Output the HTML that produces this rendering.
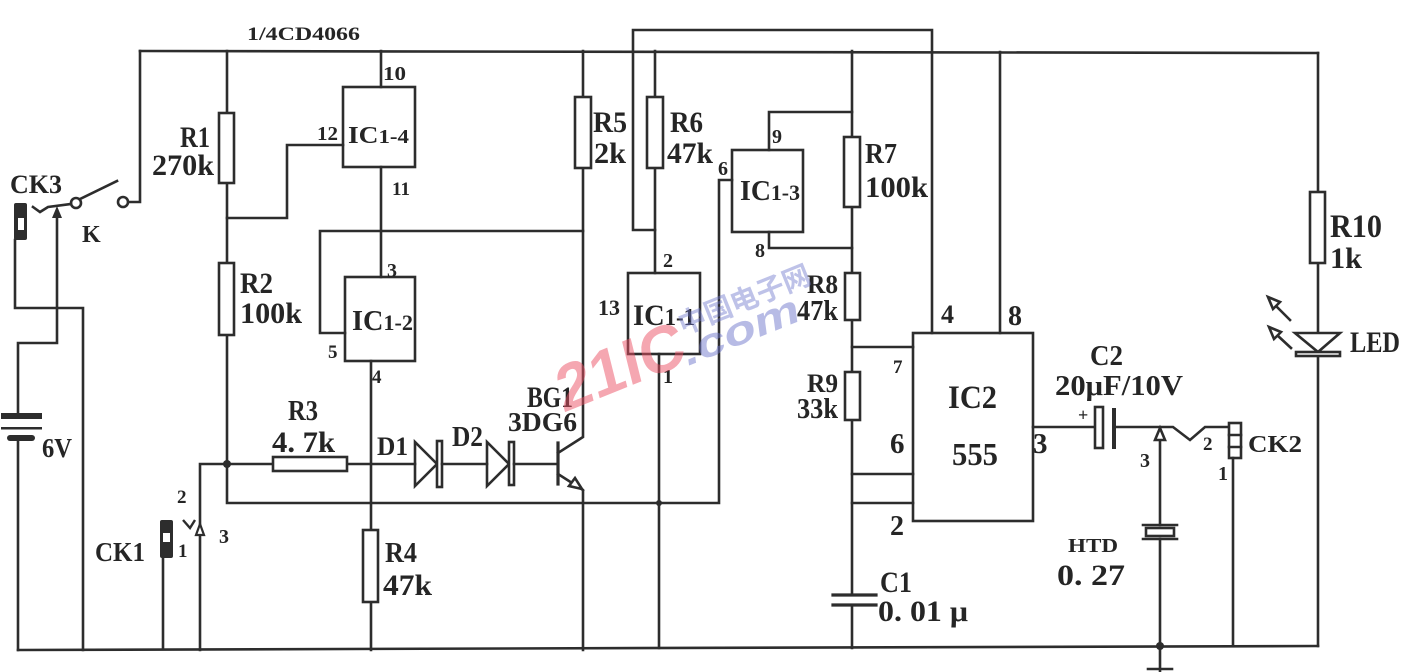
<!DOCTYPE html>
<html><head><meta charset="utf-8"><style>
html,body{margin:0;padding:0;background:#fff;}
svg{display:block;}
text{font-family:"Liberation Serif",serif;font-weight:bold;fill:#252525;}
</style></head><body>
<svg width="1401" height="672" viewBox="0 0 1401 672" xmlns="http://www.w3.org/2000/svg">
<g fill="none" stroke="#2d2d2d" stroke-width="2.6" stroke-linejoin="miter" stroke-linecap="square">
<!-- rails -->
<path d="M140 51 L1318 53"/>
<path d="M18 650 L1318 646"/>
<path d="M655 230 H633 V30 H932 V333"/>
<!-- left side / switch K -->
<path d="M140 51 V202 H128"/>
<circle cx="123" cy="202" r="5" fill="#fff"/>
<circle cx="76" cy="203" r="5" fill="#fff"/>
<path d="M80 199 L117 181"/>
<path d="M33 207 L40 212 L48 207 L71 204"/>
<path d="M57 218 V343 H18 V413"/>
<path d="M18 442 V650"/>
<path d="M15 240 V308 H83 V650"/>
<!-- R1 R2 column -->
<path d="M227 51 V113 M227 183 V263 M227 335 V503 H719 V180 H732"/>
<rect x="219" y="113" width="15" height="70" fill="#fff"/>
<rect x="219" y="263" width="15" height="72" fill="#fff"/>
<path d="M227 218 H287 V145 H343"/>
<!-- IC1-4 / IC1-2 -->
<rect x="343" y="87" width="72" height="80"/>
<path d="M381 51 V87 M381 167 V277"/>
<path d="M345 333 H320 V231 H583"/>
<rect x="345" y="277" width="70" height="84"/>
<path d="M371 361 V530 M371 602 V650"/>
<rect x="363" y="530" width="15" height="72" fill="#fff"/>
<!-- R3, diodes -->
<path d="M200 650 V464 H273 M347 464 H415"/>
<rect x="273" y="457" width="74" height="14" fill="#fff"/>
<polygon points="415,442 415,486 437,464"/>
<rect x="437" y="441" width="5" height="46" fill="#fff"/>
<path d="M442 464 H487"/>
<polygon points="487,442 487,486 509,464"/>
<rect x="509" y="442" width="5" height="43" fill="#fff"/>
<path d="M514 464 H558"/>
<!-- transistor -->
<path d="M558 443 V484" stroke-width="3.2"/>
<path d="M558 453 L583 437 V168 M583 51 V97"/>
<rect x="575" y="97" width="16" height="71" fill="#fff"/>
<path d="M558 474 L583 490 V650"/>
<polygon points="582,489 569,486 575,478" fill="#fff"/>
<!-- R6 / IC1-1 -->
<path d="M655 51 V97 M655 168 V273"/>
<rect x="647" y="97" width="16" height="71" fill="#fff"/>
<rect x="628" y="273" width="72" height="81"/>
<path d="M659 354 V648"/>
<!-- IC1-3 -->
<rect x="732" y="150" width="71" height="82"/>
<path d="M769 150 V112 H852 M769 232 V248 H852"/>
<!-- R7 R8 R9 C1 -->
<path d="M852 51 V137 M852 207 V273 M852 320 V372 M852 420 V595 M852 605 V648"/>
<rect x="844" y="137" width="16" height="70" fill="#fff"/>
<rect x="845" y="273" width="15" height="47" fill="#fff"/>
<rect x="845" y="372" width="15" height="48" fill="#fff"/>
<path d="M833 595 H876 M833 605 H876" stroke-width="3.2"/>
<path d="M852 347 H913 M852 474 H913 M852 503 H913"/>
<!-- IC2 -->
<rect x="913" y="333" width="120" height="188"/>
<path d="M1000 52 V333"/>
<path d="M1033 427 H1095"/>
<rect x="1095" y="407" width="8" height="41" fill="#fff"/>
<path d="M1114 410 V447" stroke-width="4"/>
<path d="M1116 427 H1173 L1190 440 L1205 427 H1229"/>
<rect x="1229" y="423" width="12" height="35" fill="#fff"/>
<path d="M1229 435 H1241 M1229 447 H1241"/>
<path d="M1233 458 V646"/>
<!-- HTD -->
<path d="M1160 438 V525 M1160 539 V672"/>
<polygon points="1160,428 1155,440 1165,440" fill="#fff"/>
<path d="M1143 525 H1177 M1143 539 H1177"/>
<rect x="1146" y="528" width="28" height="8" fill="#fff"/>
<path d="M1148 669 H1172"/>
<!-- R10 LED -->
<path d="M1318 53 V192 M1318 263 V333 M1318 356 V646"/>
<rect x="1310" y="192" width="15" height="71" fill="#fff"/>
<polygon points="1295,333 1340,333 1318,352" fill="#fff"/>
<rect x="1296" y="352" width="44" height="4" fill="#fff"/>
<path d="M1290 320 L1276 306 M1291 348 L1277 335"/>
<polygon points="1268,297 1280,302 1273,309" fill="#fff"/>
<polygon points="1269,327 1281,332 1274,339" fill="#fff"/>
</g>
<g fill="#2d2d2d">
<polygon points="57,206 52,218 62,218"/>
<rect x="1" y="413" width="41" height="6"/>
<rect x="1" y="427" width="41" height="2.5"/>
<rect x="7" y="435" width="28" height="6" rx="3"/>
<rect x="14" y="203" width="13" height="37" rx="2"/>
<rect x="160" y="520" width="13" height="38" rx="2"/>
<circle cx="227" cy="464" r="4"/>
<circle cx="659" cy="503" r="3"/>
<circle cx="1160" cy="646" r="4"/>
</g>
<rect x="18" y="218" width="6" height="12" fill="#fff"/>
<rect x="163" y="533" width="7" height="9" fill="#fff"/>
<path d="M183 520 L190 528 L195 520" fill="none" stroke="#2d2d2d" stroke-width="2.4"/>
<path d="M163 558 V650" stroke="#2d2d2d" stroke-width="2.6"/>
<polygon points="200,524 196,535 204,535" fill="#fff" stroke="#2d2d2d" stroke-width="2.2"/>

<!-- labels -->
<text x="247" y="40" font-size="19" textLength="113" lengthAdjust="spacingAndGlyphs">1/4CD4066</text>
<text x="180" y="147" font-size="30" textLength="30" lengthAdjust="spacingAndGlyphs">R1</text>
<text x="152" y="175" font-size="30" textLength="62" lengthAdjust="spacingAndGlyphs">270k</text>
<text x="240" y="293" font-size="30" textLength="33" lengthAdjust="spacingAndGlyphs">R2</text>
<text x="240" y="323" font-size="30" textLength="62" lengthAdjust="spacingAndGlyphs">100k</text>
<text x="383" y="80" font-size="20" textLength="23" lengthAdjust="spacingAndGlyphs">10</text>
<text x="317" y="140" font-size="20" textLength="21" lengthAdjust="spacingAndGlyphs">12</text>
<text x="348" y="143" font-size="24" textLength="61" lengthAdjust="spacingAndGlyphs">IC<tspan font-size="20">1-4</tspan></text>
<text x="392" y="195" font-size="19" textLength="18" lengthAdjust="spacingAndGlyphs">11</text>
<text x="387" y="277" font-size="20">3</text>
<text x="352" y="330" font-size="28" textLength="61" lengthAdjust="spacingAndGlyphs">IC<tspan font-size="22">1-2</tspan></text>
<text x="328" y="358" font-size="19">5</text>
<text x="372" y="383" font-size="19">4</text>
<text x="288" y="420" font-size="28" textLength="30" lengthAdjust="spacingAndGlyphs">R3</text>
<text x="272" y="452" font-size="30" textLength="63" lengthAdjust="spacingAndGlyphs">4. 7k</text>
<text x="377" y="455" font-size="26" textLength="31" lengthAdjust="spacingAndGlyphs">D1</text>
<text x="452" y="446" font-size="28" textLength="31" lengthAdjust="spacingAndGlyphs">D2</text>
<text x="527" y="407" font-size="30" textLength="46" lengthAdjust="spacingAndGlyphs">BG1</text>
<text x="508" y="431" font-size="27" textLength="69" lengthAdjust="spacingAndGlyphs">3DG6</text>
<text x="385" y="562" font-size="28" textLength="32" lengthAdjust="spacingAndGlyphs">R4</text>
<text x="383" y="595" font-size="30" textLength="49" lengthAdjust="spacingAndGlyphs">47k</text>
<text x="177" y="503" font-size="19">2</text>
<text x="219" y="543" font-size="20">3</text>
<text x="178" y="557" font-size="19">1</text>
<text x="95" y="561" font-size="27" textLength="50" lengthAdjust="spacingAndGlyphs">CK1</text>
<text x="42" y="457" font-size="27" textLength="30" lengthAdjust="spacingAndGlyphs">6V</text>
<text x="10" y="193" font-size="26" textLength="52" lengthAdjust="spacingAndGlyphs">CK3</text>
<text x="82" y="242" font-size="24">K</text>
<text x="593" y="132" font-size="30" textLength="34" lengthAdjust="spacingAndGlyphs">R5</text>
<text x="594" y="163" font-size="30" textLength="32" lengthAdjust="spacingAndGlyphs">2k</text>
<text x="670" y="132" font-size="30" textLength="33" lengthAdjust="spacingAndGlyphs">R6</text>
<text x="667" y="163" font-size="30" textLength="46" lengthAdjust="spacingAndGlyphs">47k</text>
<text x="718" y="175" font-size="20">6</text>
<text x="772" y="143" font-size="20">9</text>
<text x="740" y="200" font-size="28" textLength="60" lengthAdjust="spacingAndGlyphs">IC<tspan font-size="22">1-3</tspan></text>
<text x="755" y="257" font-size="20">8</text>
<text x="865" y="163" font-size="28" textLength="32" lengthAdjust="spacingAndGlyphs">R7</text>
<text x="865" y="197" font-size="30" textLength="63" lengthAdjust="spacingAndGlyphs">100k</text>
<text x="663" y="267" font-size="20">2</text>
<text x="598" y="315" font-size="22" textLength="22" lengthAdjust="spacingAndGlyphs">13</text>
<text x="633" y="325" font-size="30" textLength="62" lengthAdjust="spacingAndGlyphs">IC<tspan font-size="24">1-1</tspan></text>
<text x="807" y="293" font-size="26" textLength="31" lengthAdjust="spacingAndGlyphs">R8</text>
<text x="797" y="320" font-size="28" textLength="41" lengthAdjust="spacingAndGlyphs">47k</text>
<text x="807" y="392" font-size="26" textLength="31" lengthAdjust="spacingAndGlyphs">R9</text>
<text x="797" y="418" font-size="28" textLength="41" lengthAdjust="spacingAndGlyphs">33k</text>
<text x="663" y="383" font-size="20">1</text>
<text x="893" y="373" font-size="19">7</text>
<text x="890" y="453" font-size="29">6</text>
<text x="890" y="535" font-size="28">2</text>
<text x="880" y="592" font-size="30" textLength="32" lengthAdjust="spacingAndGlyphs">C1</text>
<text x="878" y="621" font-size="30" textLength="90" lengthAdjust="spacingAndGlyphs">0. 01 μ</text>
<text x="941" y="323" font-size="26">4</text>
<text x="1008" y="325" font-size="28">8</text>
<text x="1330" y="237" font-size="33" textLength="52" lengthAdjust="spacingAndGlyphs">R10</text>
<text x="1330" y="268" font-size="30" textLength="32" lengthAdjust="spacingAndGlyphs">1k</text>
<text x="948" y="408" font-size="33" textLength="49" lengthAdjust="spacingAndGlyphs">IC2</text>
<text x="952" y="465" font-size="32" textLength="46" lengthAdjust="spacingAndGlyphs">555</text>
<text x="1090" y="365" font-size="28" textLength="33" lengthAdjust="spacingAndGlyphs">C2</text>
<text x="1055" y="395" font-size="28" textLength="128" lengthAdjust="spacingAndGlyphs">20μF/10V</text>
<text x="1078" y="421" font-size="18">+</text>
<text x="1033" y="453" font-size="29">3</text>
<text x="1140" y="467" font-size="20">3</text>
<text x="1203" y="450" font-size="19">2</text>
<text x="1218" y="480" font-size="20">1</text>
<text x="1248" y="452" font-size="24" textLength="54" lengthAdjust="spacingAndGlyphs">CK2</text>
<text x="1068" y="552" font-size="20" textLength="50" lengthAdjust="spacingAndGlyphs">HTD</text>
<text x="1057" y="585" font-size="30" textLength="68" lengthAdjust="spacingAndGlyphs">0. 27</text>
<text x="1350" y="352" font-size="30" textLength="50" lengthAdjust="spacingAndGlyphs">LED</text>

<!-- watermark -->
<text transform="translate(563,413) rotate(-22) skewX(-8)" x="0" y="0" font-size="64" textLength="135" lengthAdjust="spacingAndGlyphs" style="font-family:'Liberation Sans',sans-serif;font-weight:bold;fill:#ec4f63;fill-opacity:0.5">21IC</text>
<text transform="translate(688,366) rotate(-22)" x="0" y="0" font-size="40" textLength="124" lengthAdjust="spacingAndGlyphs" style="font-family:'Liberation Sans',sans-serif;font-weight:bold;font-style:italic;fill:#6f78cc;fill-opacity:0.5">.com</text>
<text transform="translate(683,335) rotate(-22)" x="0" y="0" font-size="28" textLength="140" lengthAdjust="spacingAndGlyphs" style="font-family:'Liberation Sans','Noto Sans CJK SC',sans-serif;font-weight:bold;fill:#6f78cc;fill-opacity:0.45">中国电子网</text>
</svg>
</body></html>
